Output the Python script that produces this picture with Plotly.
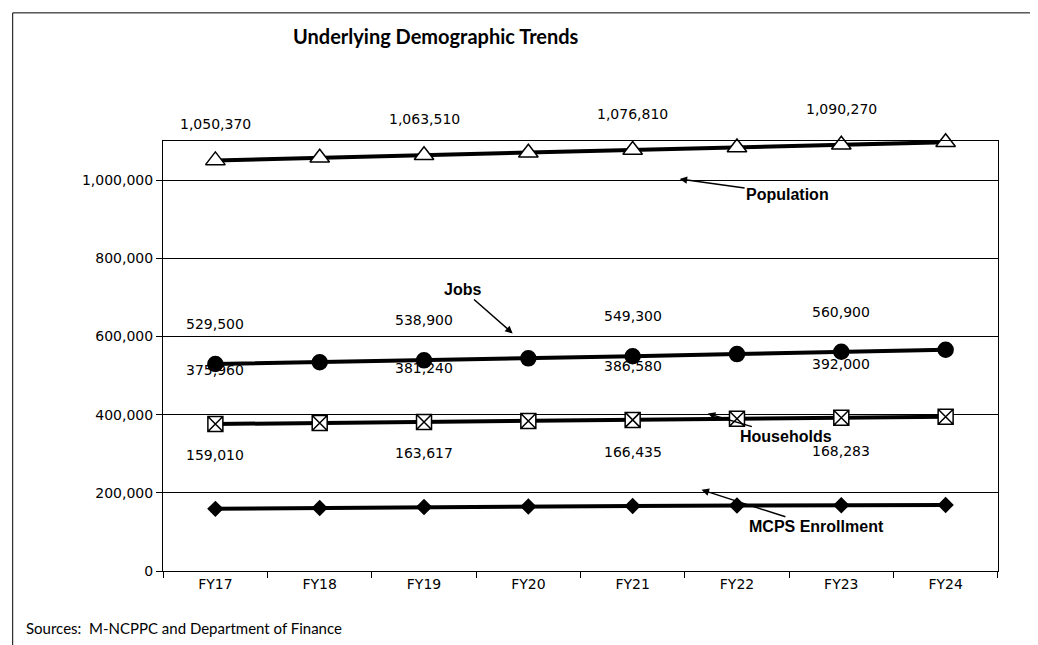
import plotly.graph_objects as go

years = ["FY17","FY18","FY19","FY20","FY21","FY22","FY23","FY24"]
population = [1050370,1057000,1063510,1070000,1076810,1083500,1090270,1097000]
jobs = [529500,534000,538900,544000,549300,555000,560900,566000]
households = [375960,378600,381240,383900,386580,389300,392000,394700]
mcps = [159010,161300,163617,165000,166435,167400,168283,169000]
label_idx = [0,2,4,6]

fig = go.Figure()
def add(vals, sym, size, fill, shift):
    fig.add_trace(go.Scatter(x=years, y=vals, mode="lines+markers",
        line=dict(color="black", width=4),
        marker=dict(symbol=sym, size=size, color=fill, line=dict(color="black", width=1.5)),
        showlegend=False, cliponaxis=False))
    for i in label_idx:
        fig.add_annotation(x=years[i], y=vals[i], text=f"{vals[i]:,}", showarrow=False,
                           yshift=shift, font=dict(family="DejaVu Sans", size=14, color="black"))
add(population, "triangle-up", 17, "white", 36)
add(jobs, "circle", 15, "black", 40)
add(households, "square-x", 15, "white", 54)
add(mcps, "diamond", 11, "black", 54)

arrows = [("Population", 4.45, 1002600, 108, 15),
          ("Jobs", 2.85, 607700, -50, -44),
          ("Households", 4.72, 402600, 78, 23),
          ("MCPS Enrollment", 4.66, 207700, 115, 37)]
for t, x, y, ax, ay in arrows:
    fig.add_annotation(x=x, y=y, text=f"<b>{t}</b>", showarrow=True, ax=ax, ay=ay,
                       arrowhead=2, arrowsize=1, arrowwidth=1.5, arrowcolor="black",
                       font=dict(family="Liberation Sans", size=16, color="black"))

fig.add_annotation(xref="paper", yref="paper", x=0.153, y=1.244, yanchor="middle", text="<b>Underlying Demographic Trends</b>",
                   showarrow=False, xanchor="left", font=dict(family="Lato", size=20, color="black"))
fig.add_annotation(xref="paper", yref="paper", x=-0.166, y=-0.133, yanchor="middle", xanchor="left",
                   text="Sources:  M-NCPPC and Department of Finance", showarrow=False,
                   font=dict(family="Lato", size=15, color="black"))
fig.add_shape(type="rect", xref="paper", yref="paper", x0=-0.180, x1=1.048, y0=-0.179, y1=1.298,
              line=dict(color="black", width=1))

fig.update_layout(width=1038, height=645, margin=dict(l=155, r=48, t=133, b=82, autoexpand=False),
    plot_bgcolor="white", paper_bgcolor="white",
    xaxis=dict(tickson="boundaries", ticks="outside", ticklen=6, tickcolor="black", automargin=False,
               showline=True, linecolor="black", mirror=True, showgrid=False,
               tickfont=dict(family="DejaVu Sans", size=14, color="black")),
    yaxis=dict(range=[0,1100000], tickvals=[0,200000,400000,600000,800000,1000000], automargin=False,
               tickformat=",", ticks="outside", ticklen=6, tickcolor="black",
               showline=True, linecolor="black", mirror=True, gridcolor="black", gridwidth=1,
               tickfont=dict(family="DejaVu Sans", size=14, color="black")))
fig.write_html("out.html")
